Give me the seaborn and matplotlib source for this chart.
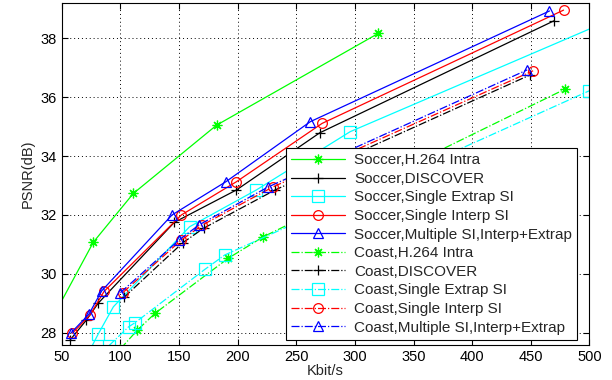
import numpy as np
import pandas as pd
import matplotlib
matplotlib.use("Agg")
import matplotlib.pyplot as plt
import seaborn as sns

# ---- data ----
soccer_h264_x = [42, 77, 111, 182, 320]
soccer_h264_y = [28.5, 31.08, 32.73, 35.05, 38.17]

soccer_disc_x = [57, 71, 81, 146, 199, 270, 470]
soccer_disc_y = [27.75, 28.43, 29.0, 31.75, 32.85, 34.79, 38.6]

soccer_extr_x = [70, 81, 94, 159, 216, 296, 540]
soccer_extr_y = [27.1, 27.95, 28.88, 31.6, 32.85, 34.83, 39.0]

soccer_intp_x = [59, 74, 86, 152, 199, 272, 478]
soccer_intp_y = [27.98, 28.6, 29.4, 32.0, 33.13, 35.11, 38.96]

soccer_mult_x = [58, 73, 84, 144, 190, 262, 466]
soccer_mult_y = [28.0, 28.62, 29.42, 32.0, 33.13, 35.17, 38.93]

coast_h264_x = [100, 114.5, 129.6, 192, 222, 479]
coast_h264_y = [27.45, 28.09, 28.66, 30.53, 31.26, 36.27]

coast_disc_x = [103, 153, 171, 232, 449]
coast_disc_y = [29.2, 31.05, 31.55, 32.85, 36.75]

coast_extr_x = [90, 107, 112.5, 172, 189, 500]
coast_extr_y = [27.55, 28.2, 28.34, 30.15, 30.64, 36.22]

coast_intp_x = [102, 152, 170, 230, 452]
coast_intp_y = [29.36, 31.15, 31.66, 32.95, 36.9]

coast_mult_x = [100, 150, 167, 226, 447]
coast_mult_y = [29.36, 31.15, 31.66, 32.95, 36.93]

labels = ["Soccer,H.264 Intra", "Soccer,DISCOVER", "Soccer,Single Extrap SI",
          "Soccer,Single Interp SI", "Soccer,Multiple SI,Interp+Extrap",
          "Coast,H.264 Intra", "Coast,DISCOVER", "Coast,Single Extrap SI",
          "Coast,Single Interp SI", "Coast,Multiple SI,Interp+Extrap"]

series = [
    (soccer_h264_x, soccer_h264_y, "#00ff00", (8, 2, 0), "-"),
    (soccer_disc_x, soccer_disc_y, "#000000", "+", "-"),
    (soccer_extr_x, soccer_extr_y, "#00ffff", "s", "-"),
    (soccer_intp_x, soccer_intp_y, "#ff0000", "o", "-"),
    (soccer_mult_x, soccer_mult_y, "#0000ff", "^", "-"),
    (coast_h264_x, coast_h264_y, "#00ff00", (8, 2, 0), "-."),
    (coast_disc_x, coast_disc_y, "#000000", "+", "-."),
    (coast_extr_x, coast_extr_y, "#00ffff", "s", "-."),
    (coast_intp_x, coast_intp_y, "#ff0000", "o", "-."),
    (coast_mult_x, coast_mult_y, "#0000ff", "^", "-."),
]

sns.set_style("white")
plt.rcParams["font.family"] = ["Liberation Sans", "DejaVu Sans"]

fig = plt.figure(figsize=(6.12, 3.80), dpi=100)
ax = fig.add_axes([0.101, 0.092, 0.862, 0.900])

for (xs, ys, col, mk, ls), lab in zip(series, labels):
    df = pd.DataFrame({"x": xs, "y": ys})
    ms = 8 if mk == "s" else 7
    sns.lineplot(data=df, x="x", y="y", ax=ax, color=col, marker=mk,
                 linestyle=ls, linewidth=0.9, markersize=ms,
                 markerfacecolor="none", markeredgecolor=col,
                 markeredgewidth=0.9, sort=False, label=lab, clip_on=True)

ax.set_xlim(50, 500)
ax.set_ylim(27.58, 39.2)
ax.set_xticks(np.arange(50, 501, 50))
ax.set_yticks(np.arange(28, 39, 2))
ax.tick_params(direction="in", length=4, width=0.8, labelsize=10.5,
               top=True, right=True, bottom=True, left=True, colors="black")
ax.grid(True, linestyle=(0, (1, 3)), color="black", linewidth=0.7)
for s in ax.spines.values():
    s.set_color("black")
    s.set_linewidth(0.8)
ax.set_xlabel("Kbit/s", fontsize=10.5, labelpad=0)
ax.set_ylabel("PSNR(dB)", fontsize=10.5, labelpad=4)

leg = ax.legend(loc="lower right", bbox_to_anchor=(0.977, 0.015), fontsize=11,
                frameon=True, fancybox=False, framealpha=1, edgecolor="black",
                borderpad=0.35, labelspacing=0.30, handlelength=3.5,
                handletextpad=0.6, borderaxespad=0)
leg.get_frame().set_linewidth(0.8)

fig.savefig("out.png", dpi=100)
